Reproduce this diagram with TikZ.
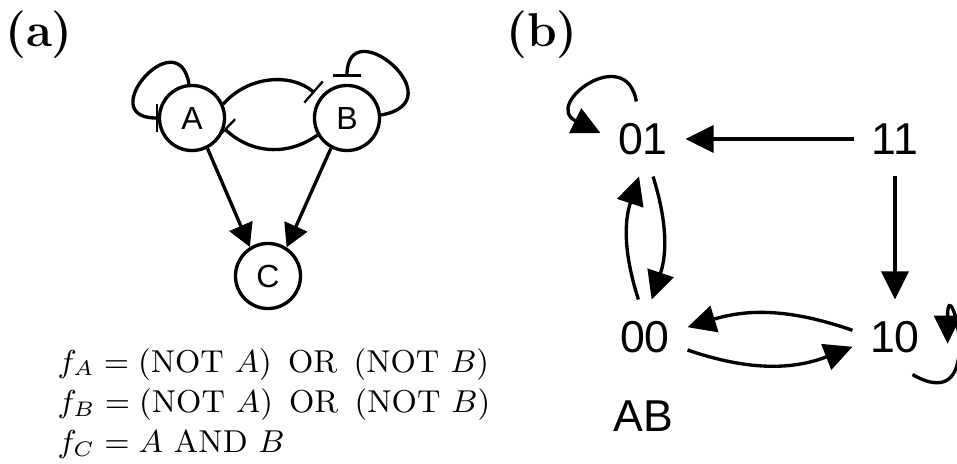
\documentclass[tikz,border=0pt]{standalone}
\usepackage{fontspec}
\setsansfont{Liberation Sans}
\usepackage{amsmath}
\usetikzlibrary{arrows.meta,positioning}

\begin{document}
\begin{tikzpicture}[x=0.01cm,y=0.01cm,
    gene/.style={draw, circle, line width=0.95pt, minimum size=0.65cm, inner sep=0pt,
        font=\sffamily\fontsize{9.1}{11}\selectfont},
    state/.style={inner xsep=0.17cm, inner ysep=0.21cm, font=\sffamily\fontsize{12.7}{15}\selectfont},
    act/.style={line width=0.95pt, -{Triangle[length=6.5pt,width=7pt]}},
    inh/.style={line width=0.95pt, -{Bar[width=8pt,line width=0.65pt]}},
    flow/.style={line width=0.95pt, -{Triangle[length=8pt,width=7.7pt]}},
    panel/.style={font=\bfseries\fontsize{13.5}{16}\selectfont}]
    \useasboundingbox (0,0) rectangle (957,463);
    \clip (0,0) rectangle (957,463);
    % Panel labels
    \node[panel] (pa) at (39,428) {(a)};
    \node[panel] (pb) at (542,428) {(b)};
    % Draw the network
    \node[gene] (A) at (192,345) {A};
    \node[gene] (B) at (347,345) {B};
    \node[gene] (C) at (268,187) {C};
    \draw[act] (A.-63) -- (C.122);
    \draw[act] (B.-118) -- (C.57);
    \draw[inh, shorten >=2pt] (A.24) to[bend left=45] (B.143);
    \draw[inh] (B.210) to[bend left=40] (A.-18);
    \draw[inh] (A.95) .. controls +(100:65) and +(180:65) .. (A.180);
    \draw[inh, shorten >=2pt] (B.5) .. controls +(10:78) and +(90:75) .. (B.90);
    % Update rules
    \node[anchor=north west, inner sep=0pt, align=left, font=\fontsize{9}{10.2}\selectfont] (rules) at (57,115)
        {$f_A = (\mathrm{NOT}\ A)\ \,\mathrm{OR}\ \,(\mathrm{NOT}\ B)$\\[1.2pt]
         $f_B = (\mathrm{NOT}\ A)\ \,\mathrm{OR}\ \,(\mathrm{NOT}\ B)$\\[1.2pt]
         $f_C = A\ \mathrm{AND}\ B$};
    % Draw the state transition graph
    \node[state] (s01) at (643,324) {01};
    \node[state] (s11) at (895,324) {11};
    \node[state] (s00) at (645,126) {00};
    \node[state] (s10) at (895,126) {10};
    \node[state] (ab) at (643,47) {AB};
    \draw[flow] (s11) -- (s01);
    \draw[flow] (s11) -- (s10);
    \draw[flow] (s01.-75) to[bend left=18] (s00.80);
    \draw[flow] (s00.100) to[bend left=18] (s01.-96);
    \draw[flow] (s10.171) to[bend right=18] (s00.13);
    \draw[flow] (s00.-17) to[bend right=20] (s10.193);
    \draw[flow] (s01.100) .. controls +(100:60) and +(154:65) .. (s01.172);
    \draw[flow] (s10.-65) .. controls +(-30:90) and +(90:80) .. ([xshift=0.1cm]s10.-9);
\end{tikzpicture}
\end{document}
